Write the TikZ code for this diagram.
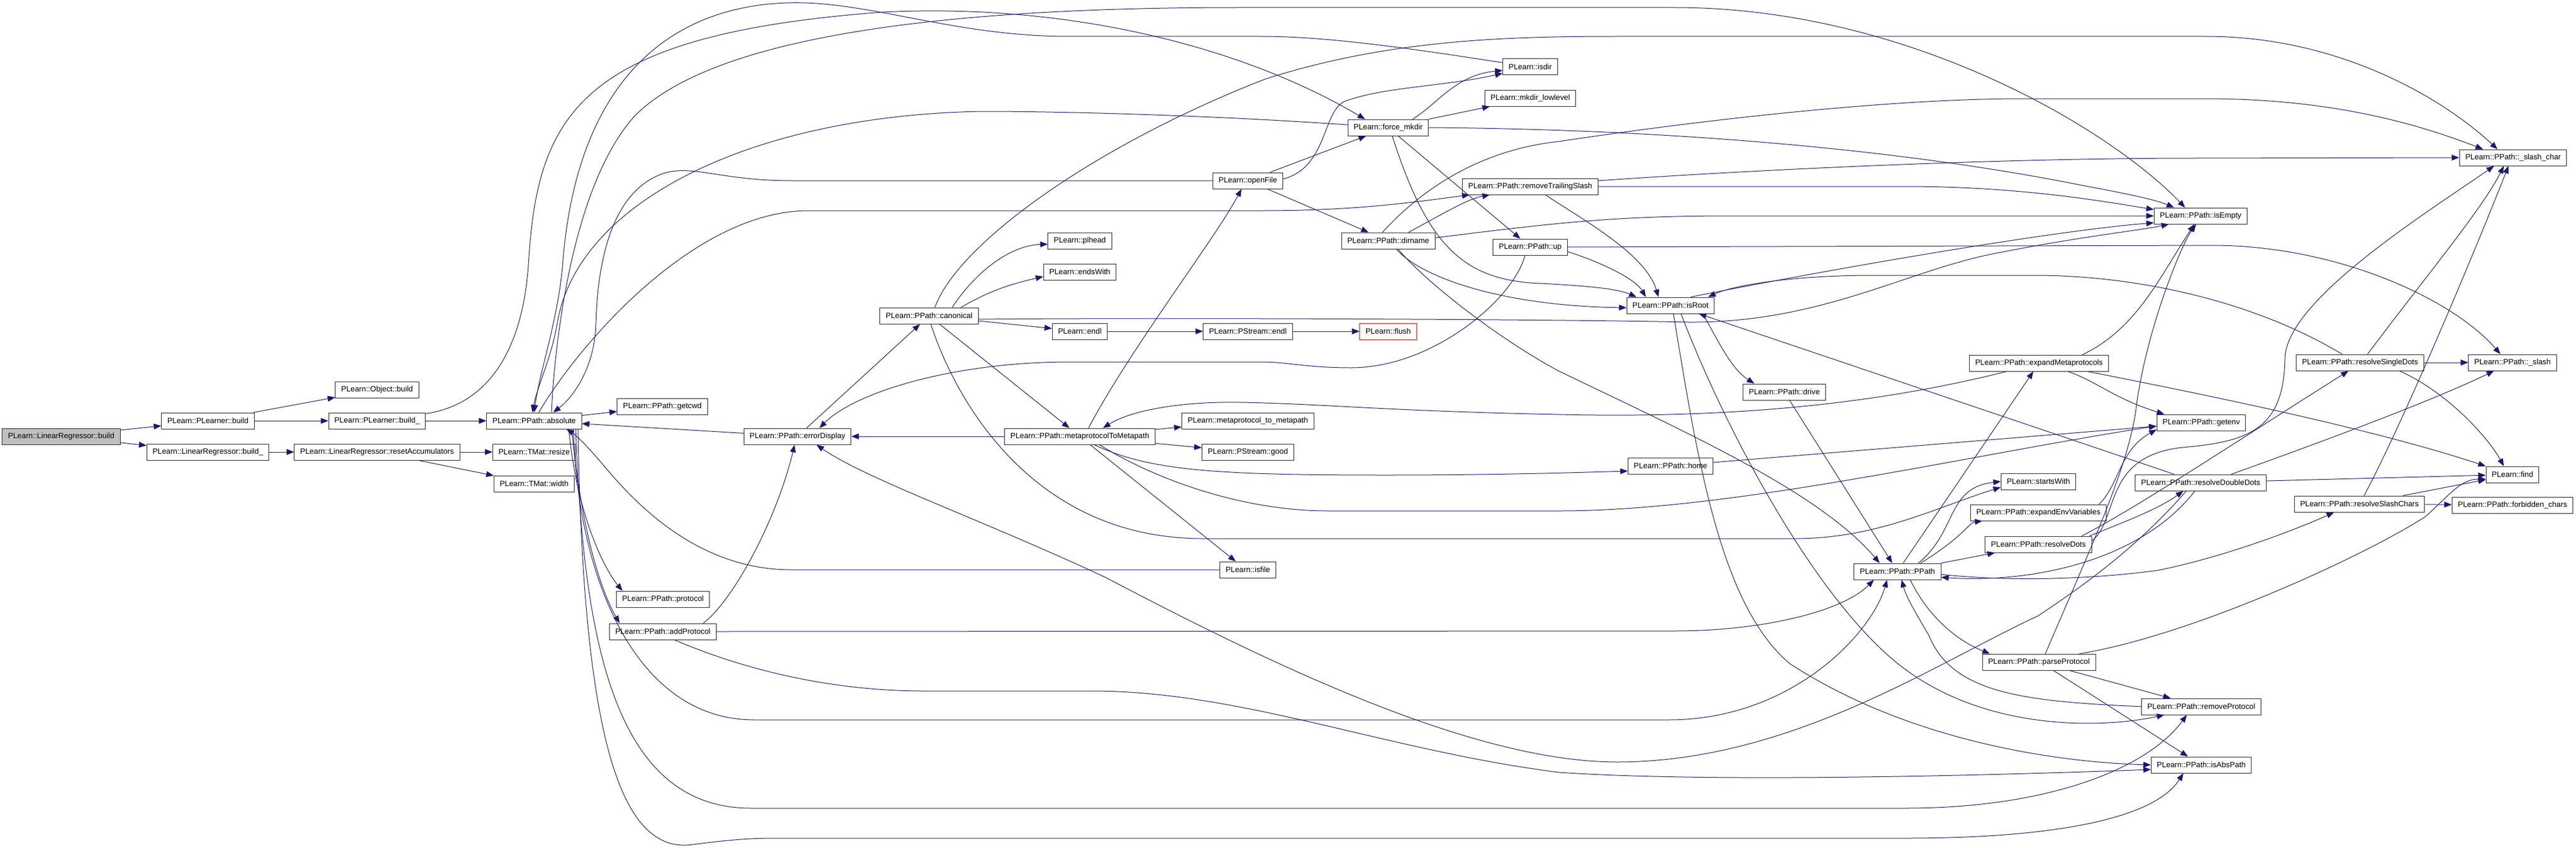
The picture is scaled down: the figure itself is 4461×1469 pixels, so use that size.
\documentclass[tikz,border=0pt]{standalone}
\usepackage{fontspec}
\setmainfont{Liberation Sans}
\usetikzlibrary{arrows.meta, positioning}
\definecolor{edgeBlue}{HTML}{191970}
\definecolor{rootGray}{HTML}{BFBFBF}

\begin{document}
\begin{tikzpicture}[x=1pt, y=-1pt,
  fnBox/.style={
    draw=black!85, line width=1pt, fill=white,
    minimum height=28pt, inner xsep=10pt, inner ysep=0pt,
    font=\fontsize{13.3pt}{16pt}\selectfont
  },
  callEdge/.style={draw=edgeBlue, line width=1pt, -{Triangle[length=13pt,width=10pt]}} ]
\path[use as bounding box, fill=white] (0,0) rectangle (4461,1469);

% functions
\node[fnBox, fill=rootGray](lrBuild) at (106,756){PLearn::LinearRegressor::build};
\node[fnBox](plBuild) at (360,729){PLearn::PLearner::build};
\node[fnBox, below=25pt of plBuild](lrBuildU){PLearn::LinearRegressor::build\_};
\node[fnBox](plBuildU) at (653,729){PLearn::PLearner::build\_};
\node[fnBox, above=25pt of plBuildU](objBuild){PLearn::Object::build};
\node[fnBox, below=25pt of plBuildU](resetAcc){PLearn::LinearRegressor::resetAccumulators};
\node[fnBox](absolute) at (925,729){PLearn::PPath::absolute};
\node[fnBox, below=25pt of absolute](tmResize){PLearn::TMat::resize};
\node[fnBox, below=26pt of tmResize](tmWidth){PLearn::TMat::width};
\node[fnBox](getcwd) at (1147,704){PLearn::PPath::getcwd};
\node[fnBox](protocol) at (1148,1038){PLearn::PPath::protocol};
\node[fnBox, below=27pt of protocol](addProtocol){PLearn::PPath::addProtocol};
\node[fnBox](errorDisplay) at (1381,756){PLearn::PPath::errorDisplay};
\node[fnBox](canonical) at (1609,547){PLearn::PPath::canonical};
\node[fnBox](plhead) at (1870,417){PLearn::plhead};
\node[fnBox, below=25pt of plhead](endsWith){PLearn::endsWith};
\node[fnBox](endl) at (1870,574){PLearn::endl};
\node[fnBox](mpToMeta) at (1870,756){PLearn::PPath::metaprotocolToMetapath};
\node[fnBox](openFile) at (2161,313){PLearn::openFile};
\node[fnBox](psEndl) at (2161,574){PLearn::PStream::endl};
\node[fnBox](mpToMetaLow) at (2161,729){PLearn::metaprotocol\_to\_metapath};
\node[fnBox, below=25pt of mpToMetaLow](psGood){PLearn::PStream::good};
\node[fnBox](isfile) at (2161,987){PLearn::isfile};
\node[fnBox](forceMkdir) at (2404,221){PLearn::force\_mkdir};
\node[fnBox](dirname) at (2404,417){PLearn::PPath::dirname};
\node[fnBox, draw=red](flush) at (2404,574){PLearn::flush};
\node[fnBox](isdir) at (2650,116){PLearn::isdir};
\node[fnBox, below=25pt of isdir](mkdirLow){PLearn::mkdir\_lowlevel};
\node[fnBox](removeTS) at (2650,323){PLearn::PPath::removeTrailingSlash};
\node[fnBox](ppUp) at (2650,428){PLearn::PPath::up};
\node[fnBox](isRoot) at (2893,529){PLearn::PPath::isRoot};
\node[fnBox](home) at (2893,807){PLearn::PPath::home};
\node[fnBox](drive) at (3090,679){PLearn::PPath::drive};
\node[fnBox](ppath) at (3286,990){PLearn::PPath::PPath};
\node[fnBox](expandMeta) at (3531,629){PLearn::PPath::expandMetaprotocols};
\node[fnBox](startsWith) at (3530,834){PLearn::startsWith};
\node[fnBox, below=25pt of startsWith](expandEnv){PLearn::PPath::expandEnvVariables};
\node[fnBox, below=26pt of expandEnv](resolveDots){PLearn::PPath::resolveDots};
\node[fnBox](parseProtocol) at (3531,1147){PLearn::PPath::parseProtocol};
\node[fnBox](isEmpty) at (3811,374){PLearn::PPath::isEmpty};
\node[fnBox](getenv) at (3812,732){PLearn::PPath::getenv};
\node[fnBox](resolveDD) at (3811,836){PLearn::PPath::resolveDoubleDots};
\node[fnBox](removeProtocol) at (3812,1224){PLearn::PPath::removeProtocol};
\node[fnBox](isAbsPath) at (3812,1325){PLearn::PPath::isAbsPath};
\node[fnBox](resolveSD) at (4087,628){PLearn::PPath::resolveSingleDots};
\node[fnBox](resolveSC) at (4086,873){PLearn::PPath::resolveSlashChars};
\node[fnBox](slashChar) at (4352,273){PLearn::PPath::\_slash\_char};
\node[fnBox](slash) at (4351,628){PLearn::PPath::\_slash};
\node[fnBox](find) at (4351,822){PLearn::find};
\node[fnBox, below=24pt of find](forbidden){PLearn::PPath::forbidden\_chars};

% calls
\draw[callEdge] (lrBuild) -- (plBuild);
\draw[callEdge] (lrBuild) -- (lrBuildU);
\draw[callEdge] (plBuild) -- (objBuild);
\draw[callEdge] (plBuild) -- (plBuildU);
\draw[callEdge] (plBuildU) -- (absolute);
\draw[callEdge] (plBuildU) .. controls (850,700) and (905,600) .. (915,460) .. controls (930,200) and (1000,60) .. (1529,21) .. controls (1850,5) and (2150,80) .. ([xshift=-40pt]forceMkdir.north);
\draw[callEdge] (lrBuildU) -- (resetAcc);
\draw[callEdge] (resetAcc) -- (tmResize);
\draw[callEdge] (resetAcc) -- (tmWidth);
\draw[callEdge] (absolute) -- (getcwd);
\draw[callEdge] ([xshift=60pt]absolute.south) .. controls (1000,900) and (1050,990) .. ([xshift=-70pt]protocol.north);
\draw[callEdge] ([xshift=65pt]absolute.south) .. controls (1010,950) and (1050,1040) .. ([xshift=-75pt]addProtocol.north);
\draw[callEdge] ([xshift=30pt]absolute.north) .. controls (960,600) and (990,320) .. (1100,200) .. controls (1250,50) and (1700,13) .. (2146,13) -- (2900,13) .. controls (3300,13) and (3650,220) .. ([xshift=-27pt]isEmpty.north);
\draw[callEdge] ([xshift=8pt]absolute.north) .. controls (1000,600) and (1200,365) .. (1400,365) -- (2185,365) .. controls (2350,365) and (2450,350) .. ([xshift=-105pt]removeTS.south);
\draw[callEdge] ([xshift=68pt]absolute.south) .. controls (1000,1000) and (1100,1247) .. (1306,1247) -- (2890,1247) .. controls (3100,1247) and (3240,1100) .. ([xshift=-18pt]ppath.south);
\draw[callEdge] ([xshift=72pt]absolute.south) .. controls (1010,1100) and (1060,1400) .. (1300,1400) -- (3300,1400) .. controls (3550,1400) and (3720,1330) .. ([xshift=-25pt]removeProtocol.south);
\draw[callEdge] ([xshift=76pt]absolute.south) .. controls (1010,1300) and (1080,1480) .. (1200,1463) .. controls (1260,1455) and (1300,1452) .. (1340,1452) -- (3300,1452) .. controls (3550,1452) and (3730,1420) .. ([xshift=-31pt]isAbsPath.south);
\draw[callEdge] (isdir) .. controls (2450,85) and (2300,63) .. (2185,63) -- (1850,63) .. controls (1650,63) and (1500,0) .. (1363,5) .. controls (1150,12) and (1000,150) .. (975,450) .. controls (968,550) and (935,640) .. (absolute.north);
\draw[callEdge] (forceMkdir) .. controls (2100,200) and (1850,193) .. (1700,193) .. controls (1300,200) and (1000,350) .. (965,560) .. controls (955,620) and (930,670) .. ([xshift=-3pt]absolute.north);
\draw[callEdge] (openFile.west) -- (1370,313) .. controls (1250,313) and (1200,285) .. (1150,300) .. controls (1060,330) and (1035,450) .. (1032,560) .. controls (1030,640) and (990,690) .. ([xshift=33pt]absolute.north);
\draw[callEdge] (isfile.west) -- (1370,987) .. controls (1200,987) and (1090,860) .. (1040,800) .. controls (1010,765) and (995,752) .. ([xshift=56pt]absolute.south);
\draw[callEdge] (errorDisplay) -- (absolute);
\draw[callEdge] (errorDisplay) -- (canonical);
\draw[callEdge] ([xshift=70pt]addProtocol.north) .. controls (1270,1040) and (1345,900) .. ([xshift=-5pt]errorDisplay.south);
\draw[callEdge] (addProtocol.east) -- (2900,1093) .. controls (3050,1093) and (3190,1060) .. ([xshift=-41pt]ppath.south);
\draw[callEdge] ([xshift=20pt]addProtocol.south) .. controls (1300,1165) and (1450,1197) .. (1600,1197) -- (1890,1197) .. controls (2150,1197) and (2400,1300) .. (2700,1338) .. controls (2950,1355) and (3400,1345) .. ([yshift=-8pt]isAbsPath.west);
\draw[callEdge] ([xshift=-9pt]ppUp.south) .. controls (2620,520) and (2480,637) .. (2340,637) .. controls (2260,637) and (2230,627) .. (2185,627) -- (1853,627) .. controls (1650,627) and (1480,680) .. ([xshift=38pt]errorDisplay.north);
\draw[callEdge] (mpToMeta) -- (errorDisplay);
\draw[callEdge] ([xshift=40pt]canonical.north) .. controls (1690,470) and (1750,425) .. ([yshift=-6pt]plhead.west);
\draw[callEdge] ([xshift=55pt]canonical.north) .. controls (1720,500) and (1760,490) .. ([yshift=-8pt]endsWith.west);
\draw[callEdge] (canonical) -- (endl);
\draw[callEdge] (canonical) -- (mpToMeta);
\draw[callEdge] ([yshift=-6pt]canonical.east) .. controls (2000,550) and (2700,553) .. (2923,558) .. controls (3150,560) and (3300,470) .. (3450,440) .. controls (3600,410) and (3700,400) .. ([xshift=-55pt]isEmpty.south);
\draw[callEdge] ([xshift=10pt]canonical.north) .. controls (1660,420) and (1900,250) .. (2191,137) .. controls (2400,70) and (2600,63) .. (2800,63) -- (3820,63) .. controls (4050,63) and (4230,170) .. ([xshift=-27pt]slashChar.north);
\draw[callEdge] ([xshift=3pt]canonical.south) .. controls (1650,680) and (1780,933) .. (2083,933) -- (3108,933) .. controls (3250,933) and (3350,880) .. ([yshift=-10pt]startsWith.west);
\draw[callEdge] (mpToMeta) -- (mpToMetaLow);
\draw[callEdge] (mpToMeta) -- (psGood);
\draw[callEdge] ([xshift=18pt]mpToMeta.south) -- ([xshift=-21pt]isfile.north);
\draw[callEdge] ([xshift=15pt]mpToMeta.north) .. controls (1960,600) and (2100,420) .. ([xshift=-11pt]openFile.south);
\draw[callEdge] ([xshift=-56pt]expandMeta.south) .. controls (3250,700) and (3000,725) .. (2700,718) .. controls (2400,712) and (2300,700) .. (2150,697) .. controls (2050,695) and (1960,710) .. ([xshift=40pt]mpToMeta.north);
\draw[callEdge] ([xshift=25pt]mpToMeta.south) .. controls (1990,815) and (2100,823) .. (2400,823) .. controls (2600,823) and (2750,818) .. ([yshift=-9pt]home.west);
\draw[callEdge] ([xshift=34pt]mpToMeta.south) .. controls (2000,830) and (2150,885) .. (2300,885) -- (2700,885) .. controls (3000,885) and (3400,790) .. ([yshift=-6pt]getenv.west);
\draw[callEdge] (endl) -- (psEndl);
\draw[callEdge] (psEndl) -- (flush);
\draw[callEdge] (openFile) -- (forceMkdir);
\draw[callEdge] ([yshift=3pt]openFile.east) .. controls (2300,290) and (2290,190) .. (2330,175) .. controls (2400,150) and (2500,150) .. ([yshift=-11pt]isdir.west);
\draw[callEdge] (openFile) -- (dirname);
\draw[callEdge] ([xshift=42pt]forceMkdir.north) .. controls (2490,180) and (2520,130) .. ([yshift=-6pt]isdir.west);
\draw[callEdge] (forceMkdir) -- (mkdirLow);
\draw[callEdge] (forceMkdir.east) .. controls (2900,224) and (3300,260) .. (3600,320) .. controls (3680,335) and (3730,345) .. ([xshift=-46pt]isEmpty.north);
\draw[callEdge] (forceMkdir) -- (ppUp);
\draw[callEdge] ([xshift=7pt]forceMkdir.south) .. controls (2470,420) and (2530,480) .. (2650,490) .. controls (2750,495) and (2800,500) .. ([xshift=-59pt]isRoot.north);
\draw[callEdge] ([xshift=35pt]dirname.north) .. controls (2500,370) and (2540,345) .. ([xshift=-70pt]removeTS.south);
\draw[callEdge] ([yshift=5pt]dirname.east) .. controls (2700,385) and (2800,374) .. (3000,374) -- (isEmpty.west);
\draw[callEdge] ([xshift=-10pt]dirname.north) .. controls (2460,330) and (2560,260) .. (2700,245) .. controls (3000,200) and (3300,171) .. (3500,171) -- (3820,171) .. controls (4050,171) and (4200,220) .. ([xshift=-52pt]slashChar.north);
\draw[callEdge] ([xshift=17pt]dirname.south) .. controls (2470,490) and (2600,590) .. (2700,643) .. controls (2900,740) and (3150,850) .. ([xshift=-31pt]ppath.north);
\draw[callEdge] ([xshift=14pt]dirname.south) .. controls (2460,480) and (2600,530) .. ([yshift=-4pt]isRoot.west);
\draw[callEdge] ([yshift=-8pt]ppUp.east) .. controls (2760,450) and (2830,480) .. ([xshift=-43pt]isRoot.north);
\draw[callEdge] (ppUp.east) -- (3830,425) .. controls (4050,425) and (4250,520) .. ([xshift=-21pt]slash.north);
\draw[callEdge] (removeTS.east) -- (3300,323) .. controls (3500,323) and (3650,350) .. ([yshift=11pt]isEmpty.west);
\draw[callEdge] ([yshift=10pt]removeTS.east) .. controls (3100,290) and (3500,274) .. (3800,274) -- (slashChar.west);
\draw[callEdge] ([xshift=26pt]removeTS.south) .. controls (2740,380) and (2850,440) .. ([xshift=-21pt]isRoot.north);
\draw[callEdge] ([xshift=56pt]isRoot.south) .. controls (2980,600) and (3000,640) .. ([xshift=-52pt]drive.north);
\draw[callEdge] ([xshift=18pt]isRoot.south) .. controls (2990,750) and (3150,1050) .. (3300,1160) .. controls (3450,1270) and (3650,1260) .. ([xshift=-64pt]removeProtocol.south);
\draw[callEdge] ([xshift=5pt]isRoot.south) .. controls (2940,800) and (2980,1050) .. (3100,1150) .. controls (3300,1280) and (3550,1320) .. (isAbsPath.west);
\draw[callEdge] ([xshift=35pt]isRoot.north) .. controls (3150,470) and (3550,400) .. ([yshift=-12pt]isEmpty.west);
\draw[callEdge] ([yshift=6pt]resolveDots.east) .. controls (3670,900) and (3640,790) .. (3780,775) .. controls (3900,765) and (3955,740) .. (3957,620) .. controls (3960,520) and (4200,370) .. ([xshift=-33pt]slashChar.south);
\draw[callEdge] ([xshift=-31pt]resolveSD.north) .. controls (3900,520) and (3700,478) .. (3529,477) -- (3242,477) .. controls (3100,477) and (3000,495) .. ([xshift=65pt]isRoot.north);
\draw[callEdge] (drive) -- (ppath);
\draw[callEdge] (home) -- (getenv);
\draw[callEdge] (ppath) -- (expandMeta);
\draw[callEdge] ([xshift=36pt]ppath.north) .. controls (3390,920) and (3370,845) .. (startsWith.west);
\draw[callEdge] ([xshift=40pt]ppath.north) .. controls (3400,930) and (3410,905) .. ([xshift=-97pt]expandEnv.south);
\draw[callEdge] (ppath) -- (resolveDots);
\draw[callEdge] ([xshift=22pt]ppath.south) .. controls (3340,1070) and (3390,1110) .. ([xshift=-85pt]parseProtocol.north);
\draw[callEdge] ([yshift=-5pt]ppath.east) .. controls (3500,1010) and (3650,1000) .. (3737,988) .. controls (3850,965) and (3970,920) .. ([xshift=-44pt]resolveSC.south);
\draw[callEdge] ([xshift=75pt]expandMeta.north) .. controls (3700,570) and (3740,480) .. ([xshift=-11pt]isEmpty.south);
\draw[callEdge] ([xshift=50pt]expandMeta.south) .. controls (3630,660) and (3660,690) .. ([xshift=-64pt]getenv.north);
\draw[callEdge] ([xshift=84pt]expandMeta.south) .. controls (3800,680) and (4100,740) .. (find.north west);
\draw[callEdge] ([xshift=105pt]expandEnv.north) .. controls (3670,840) and (3670,780) .. ([yshift=-12pt]getenv.west);
\draw[callEdge] ([xshift=75pt]resolveDots.north) .. controls (3700,880) and (3880,760) .. ([xshift=-20pt]resolveSD.south);
\draw[callEdge] ([xshift=88pt]resolveDots.north) .. controls (3690,900) and (3740,880) .. ([xshift=-30pt]resolveDD.south);
\draw[callEdge] ([xshift=53pt]resolveDD.north) .. controls (3980,780) and (4200,700) .. ([xshift=-32pt]slash.south);
\draw[callEdge] (resolveDD) -- (find);
\draw[callEdge] ([xshift=-46pt]resolveDD.north) -- ([xshift=49pt]isRoot.south);
\draw[callEdge] ([xshift=-10pt]resolveDD.south) .. controls (3700,980) and (3500,1010) .. ([yshift=-10pt]ppath.east);
\draw[callEdge] ([xshift=-25pt]resolveDD.south) .. controls (3700,950) and (3600,1020) .. (3529,1067) .. controls (3350,1150) and (3100,1320) .. (2800,1320) .. controls (2550,1320) and (2200,1150) .. (1914,1000) .. controls (1700,900) and (1500,830) .. ([xshift=33pt]errorDisplay.south);
\draw[callEdge] (resolveSD) -- (slash);
\draw[callEdge] ([xshift=13pt]resolveSD.north) .. controls (4200,480) and (4300,360) .. ([xshift=-16pt]slashChar.south);
\draw[callEdge] ([xshift=68pt]resolveSD.south) .. controls (4240,680) and (4310,760) .. ([xshift=-15pt]find.north);
\draw[callEdge] (resolveSC) -- (forbidden);
\draw[callEdge] (resolveSC) -- (find);
\draw[callEdge] ([xshift=8pt]resolveSC.north) .. controls (4160,735) and (4280,450) .. ([xshift=-8pt]slashChar.south);
\draw[callEdge] ([xshift=11pt]parseProtocol.north) .. controls (3620,950) and (3690,800) .. (3700,700) .. controls (3720,560) and (3780,420) .. ([xshift=-8pt]isEmpty.south);
\draw[callEdge] ([xshift=70pt]parseProtocol.north) .. controls (3800,1100) and (4100,960) .. (4200,895) .. controls (4240,860) and (4260,830) .. ([yshift=-8pt]find.west);
\draw[callEdge] (parseProtocol) -- (removeProtocol);
\draw[callEdge] ([xshift=25pt]parseProtocol.south) -- ([xshift=-23pt]isAbsPath.north);
\draw[callEdge] (removeProtocol.west) .. controls (3500,1215) and (3380,1200) .. (3340,1100) .. controls (3310,1050) and (3300,1030) .. ([xshift=7pt]ppath.south);
\end{tikzpicture}
\end{document}
